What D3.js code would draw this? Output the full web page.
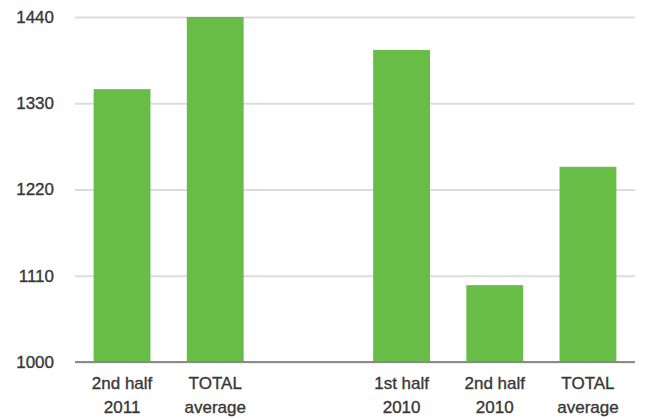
<!DOCTYPE html>
<html><head><meta charset="utf-8">
<script src="https://cdn.jsdelivr.net/npm/d3@7"></script>
<style>body{margin:0;background:#fff}svg{display:block}</style>
</head><body>
<script>
const labelLine1 = ["2nd half", "TOTAL", "", "1st half", "2nd half", "TOTAL"];
const labelLine2 = ["2011", "average", "", "2010", "2010", "average"];
const values = [1348, 1440, null, 1398, 1098, 1249];
const yTicks = [1000, 1110, 1220, 1330, 1440];

const W = 645, H = 419;
const margin = {left: 75, right: 10, top: 17, bottom: 57};
const svg = d3.select("body").append("svg").attr("width", W).attr("height", H);

const x = d3.scaleBand().domain(d3.range(values.length))
  .range([margin.left, W - margin.right]).paddingInner(0.39).paddingOuter(0.2);
const y = d3.scaleLinear().domain([1000, 1440]).range([H - margin.bottom, margin.top]);

const font = "Liberation Sans, Arial, sans-serif";
const textColor = "#383838";

// gridlines
const yAxis = d3.axisLeft(y).tickValues(yTicks).tickSize(-(W - margin.left - margin.right)).tickPadding(21).tickFormat(d3.format("d"));
const gy = svg.append("g").attr("transform", `translate(${margin.left},0)`).call(yAxis);
gy.select(".domain").remove();
gy.selectAll(".tick line").attr("stroke", "#dcdcdc").attr("stroke-width", 2);
gy.selectAll(".tick text").attr("font-family", font)
  .attr("font-size", 17).attr("fill", textColor).attr("stroke", textColor).attr("stroke-width", 0.35);

// bars
svg.append("g").selectAll("rect").data(values.map((v, i) => ({v, i})).filter(d => d.v != null))
  .join("rect")
  .attr("x", d => x(d.i)).attr("width", x.bandwidth())
  .attr("y", d => y(d.v)).attr("height", d => y(1000) - y(d.v))
  .attr("fill", "#67bd45");

// baseline
svg.append("line").attr("x1", margin.left).attr("x2", W - margin.right)
  .attr("y1", y(1000)).attr("y2", y(1000)).attr("stroke", "#8a8a8a").attr("stroke-width", 2);

// x labels
const xAxis = d3.axisBottom(x).tickSize(0).tickFormat(() => "");
const gx = svg.append("g").attr("transform", `translate(0,${y(1000)})`).call(xAxis);
gx.select(".domain").remove();
gx.selectAll(".tick text").each(function(d) {
  const t = d3.select(this).attr("y", 0).attr("dy", null)
    .attr("font-family", font).attr("font-size", 17).attr("fill", textColor)
    .attr("stroke", textColor).attr("stroke-width", 0.35);
  t.append("tspan").attr("x", 0).attr("y", 27).text(labelLine1[d]);
  t.append("tspan").attr("x", 0).attr("y", 51).text(labelLine2[d]);
});
</script>
</body></html>
